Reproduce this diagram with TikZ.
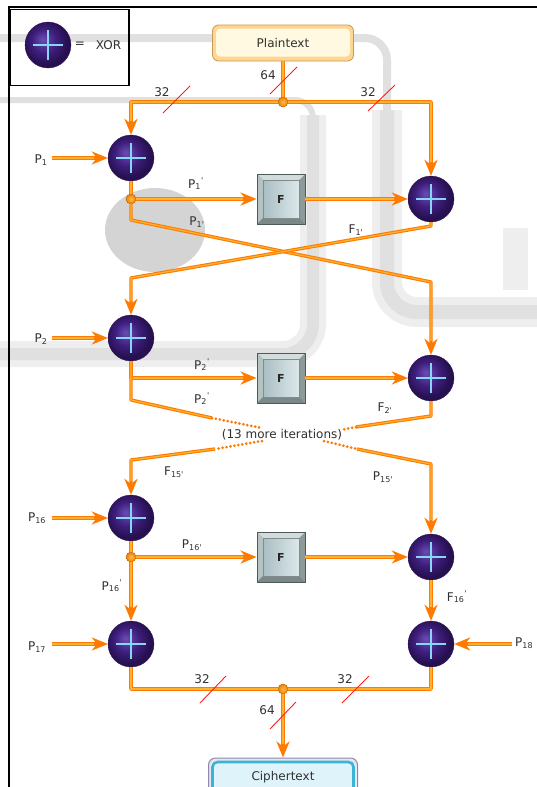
\documentclass[tikz,border=0pt]{standalone}
\usepackage{fontspec}
\setmainfont{DejaVu Sans}
\usetikzlibrary{arrows.meta}

% palette
\definecolor{wireO}{HTML}{FF7A00}
\definecolor{wireY}{HTML}{FFB230}
\definecolor{slashR}{HTML}{FF1E1E}
\definecolor{xorHi}{HTML}{6A4CB4}
\definecolor{xorMid}{HTML}{3F1F7E}
\definecolor{xorDark}{HTML}{271050}
\definecolor{plusC}{HTML}{88D6F2}
\definecolor{txtC}{HTML}{303030}
\definecolor{fEdge}{HTML}{4E5A5A}
\definecolor{fTop}{HTML}{D2DCDC}
\definecolor{fLeft}{HTML}{B4C2C2}
\definecolor{fRight}{HTML}{8C9A9A}
\definecolor{fBot}{HTML}{7A8888}
\definecolor{fFaceL}{HTML}{A9BEC3}
\definecolor{fFaceR}{HTML}{DCE8EA}
\definecolor{ptEdge}{HTML}{C49A5C}
\definecolor{ptRim}{HTML}{FFD590}
\definecolor{ptFill}{HTML}{FFF9E2}
\definecolor{ctEdge}{HTML}{8C88AA}
\definecolor{ctRing}{HTML}{E6E6EE}
\definecolor{ctRim}{HTML}{3AB4D6}
\definecolor{ctFill}{HTML}{DFF3FA}
\definecolor{dotHi}{HTML}{FFB850}
\definecolor{dotLo}{HTML}{EE8200}
\definecolor{wmLight}{HTML}{EEEEEE}
\definecolor{wmMid}{HTML}{E0E0E0}
\definecolor{wmDark}{HTML}{D4D4D4}

\pgfdeclareradialshading{xorball}{\pgfpoint{-6bp}{6bp}}{%
  color(0bp)=(xorHi); color(13bp)=(xorMid); color(24bp)=(xorDark);
  color(30bp)=(xorDark); color(50bp)=(xorDark)}

\newcommand\tickmark{\textquotesingle}

\begin{document}
\begin{tikzpicture}[x=1pt, y=-1pt,
  lbl/.style={inner sep=0pt, text=txtC, font=\fontsize{12}{14}\selectfont},
  wire/.style={draw=wireO, line width=3.4pt, line join=round,
    postaction={draw=wireY, line width=1.2pt, -}},
  awire/.style={draw=wireO, line width=3.4pt, line join=round,
    -{Stealth[length=16pt, width=13pt, inset=5pt]},
    postaction={draw=wireY, line width=1.2pt, -, shorten >=14pt}},
  dotwire/.style={draw=wireO, line width=3pt, line cap=round,
    dash pattern=on 0pt off 4pt},
  slash/.style={draw=slashR, line width=0.9pt},
  xor/.style={circle, minimum size=46pt, inner sep=0pt, shading=xorball,
    draw=xorDark, line width=0.3pt,
    path picture={
      \draw[plusC, line width=1.6pt]
        ([xshift=-15pt]path picture bounding box.center) --
        ([xshift=15pt]path picture bounding box.center);
      \draw[plusC, line width=1.6pt]
        ([yshift=-15pt]path picture bounding box.center) --
        ([yshift=15pt]path picture bounding box.center);}},
  jdot/.style={circle, minimum size=10pt, inner sep=0pt, shading=radial,
    inner color=dotHi, outer color=dotLo, draw=dotLo!80!black, line width=0.5pt},
  fbox/.style={rectangle, minimum width=48pt, minimum height=50pt, inner sep=0pt,
    fill=fRight, draw=fEdge, line width=0.8pt,
    font=\bfseries\fontsize{11}{12}\selectfont, text=black!85,
    path picture={
      \fill[fTop] (path picture bounding box.north west) --
        (path picture bounding box.north east) --
        ([shift={(-6pt,-6pt)}]path picture bounding box.north east) --
        ([shift={(6pt,-6pt)}]path picture bounding box.north west) -- cycle;
      \fill[fLeft] (path picture bounding box.north west) --
        ([shift={(6pt,-6pt)}]path picture bounding box.north west) --
        ([shift={(6pt,6pt)}]path picture bounding box.south west) --
        (path picture bounding box.south west) -- cycle;
      \fill[fBot] (path picture bounding box.south west) --
        ([shift={(6pt,6pt)}]path picture bounding box.south west) --
        ([shift={(-6pt,6pt)}]path picture bounding box.south east) --
        (path picture bounding box.south east) -- cycle;
      \shade[left color=fFaceL, right color=fFaceR, draw=fEdge!70, line width=0.4pt]
        ([shift={(6pt,-6pt)}]path picture bounding box.north west) rectangle
        ([shift={(-6pt,6pt)}]path picture bounding box.south east);}},
  ptbox/.style={rectangle, rounded corners=6pt, minimum width=141pt,
    minimum height=36pt, draw=ptEdge, line width=0.8pt, fill=ptRim,
    text=txtC, font=\fontsize{12}{14}\selectfont,
    path picture={
      \fill[ptFill, rounded corners=4pt]
        ([shift={(3.5pt,-3.5pt)}]path picture bounding box.north west) rectangle
        ([shift={(-3.5pt,4.5pt)}]path picture bounding box.south east);}},
  ctbox/.style={rectangle, rounded corners=7pt, minimum width=149pt,
    minimum height=38pt, draw=ctEdge, line width=1pt, fill=ctRing,
    text=txtC, font=\fontsize{12}{14}\selectfont,
    path picture={
      \draw[ctRim, fill=ctFill, line width=2.6pt, rounded corners=5pt]
        ([shift={(4pt,-4pt)}]path picture bounding box.north west) rectangle
        ([shift={(-4pt,4pt)}]path picture bounding box.south east);}},
  band/.style={line cap=butt, rounded corners=30pt}
]
\useasboundingbox (0,0) rectangle (536,787);

% faint background logo bands: a soft wide stroke with a darker core
\draw[band, wmMid, line width=8pt, rounded corners=22pt] (0,38) -- (387,38) -- (387,140);
\draw[band, wmLight, line width=30pt] (387,110) -- (387,312) -- (545,312);
\draw[band, wmMid, line width=14pt] (387,110) -- (387,312) -- (545,312);
\draw[band, wmMid, line width=6pt, rounded corners=18pt] (0,100) -- (313,100) -- (313,140);
\draw[band, wmLight, line width=26pt] (313,115) -- (313,354) -- (-5,354);
\draw[band, wmMid, line width=12pt] (313,115) -- (313,354) -- (-5,354);
\fill[wmDark] (155,230) ellipse (50 and 42);
\fill[wmLight] (503,228) rectangle (528,290);

% outer frame
\draw[black, line width=1.8pt] (9,792) -- (9,7) -- (540,7);

% legend
\node[draw=black, line width=1.3pt, minimum width=119pt, minimum height=76pt,
  inner sep=0pt] (leg) at (69.5,47.5) {};
\node[xor] (legx) at (48,45) {};
\node[lbl] (legeq) at (80,45) {=};
\node[lbl] (legt) at (108.5,45) {XOR};

% blocks
\node[ptbox] (pt) at (283,43) {Plaintext};
\node[jdot] (j0) at (283,102) {};
\node[xor] (xl1) at (131,158) {};
\node[jdot] (j1) at (131,199) {};
\node[fbox] (f1) at (281,199) {F};
\node[xor] (xr1) at (431,199) {};
\node[xor] (xl2) at (131,338) {};
\node[fbox] (f2) at (281,378) {F};
\node[xor] (xr2) at (431,378) {};
\node[xor] (xl16) at (131,518) {};
\node[jdot] (j16) at (131,557) {};
\node[fbox] (f3) at (281,557) {F};
\node[xor] (xr16) at (431,557) {};
\node[xor] (xl17) at (131,644) {};
\node[xor] (xr18) at (431,644) {};
\node[jdot] (jb) at (283,689) {};
\node[ctbox] (ct) at (283,777) {Ciphertext};

% bend and end points of the connectors
\coordinate (in1) at (52,158);
\coordinate (in2) at (52,338);
\coordinate (in16) at (52,518);
\coordinate (in17) at (52,644);
\coordinate (in18) at (512,644);
\coordinate (a1) at (131,220);
\coordinate (a2) at (431,282);
\coordinate (b1) at (431,226);
\coordinate (b2) at (131,278);
\coordinate (c1) at (131,400);
\coordinate (c2) at (212,418);
\coordinate (c3) at (262,428);
\coordinate (d1) at (431,416);
\coordinate (d2) at (356,427);
\coordinate (d3) at (341,430);
\coordinate (e1) at (262,441);
\coordinate (e2) at (215,449);
\coordinate (e3) at (131,460);
\coordinate (g1) at (324,441);
\coordinate (g2) at (357,449);
\coordinate (g3) at (431,464);

% round 1
\draw[wire] (pt) -- (j0);
\draw[awire] (j0) -| (xl1);
\draw[awire] (j0) -| (xr1);
\draw[awire] (in1) -- (xl1);
\draw[wire] (xl1) -- (j1);
\draw[awire] (j1) -- (f1);
\draw[awire] (f1) -- (xr1);
\draw[awire] (j1) -- (a1) -- (a2) -- (xr2);
\draw[awire] (xr1) -- (b1) -- (b2) -- (xl2);

% round 2
\draw[awire] (in2) -- (xl2);
\draw[awire] (xl2) |- (f2);
\draw[awire] (f2) -- (xr2);
\draw[wire] (xl2) -- (c1) -- (c2);
\draw[dotwire] (c2) -- (c3);
\draw[wire] (xr2) -- (d1) -- (d2);
\draw[dotwire] (d2) -- (d3);
\node[lbl] (more) at (282,435) {(13 more iterations)};
\draw[dotwire] (e1) -- (e2);
\draw[awire] (e2) -- (e3) -- (xl16);
\draw[dotwire] (g1) -- (g2);
\draw[awire] (g2) -- (g3) -- (xr16);

% round 16 and output whitening
\draw[awire] (in16) -- (xl16);
\draw[wire] (xl16) -- (j16);
\draw[awire] (j16) -- (f3);
\draw[awire] (f3) -- (xr16);
\draw[awire] (j16) -- (xl17);
\draw[awire] (xr16) -- (xr18);
\draw[awire] (in17) -- (xl17);
\draw[awire] (in18) -- (xr18);
\draw[wire] (xl17) |- (jb) -| (xr18);
\draw[awire] (jb) -- (ct);

% bus width marks
\draw[slash] (163,113) -- (190,86);
\draw[slash] (368,111) -- (395,85);
\draw[slash] (270,94) -- (297,67);
\draw[slash] (200,703) -- (226,676);
\draw[slash] (342,703) -- (369,676);
\draw[slash] (270,729) -- (296,702);
\node[lbl] (w1) at (162,92) {32};
\node[lbl] (w2) at (368,92) {32};
\node[lbl] (w3) at (268,75) {64};
\node[lbl] (w4) at (202,679) {32};
\node[lbl] (w5) at (345,679) {32};
\node[lbl] (w6) at (267,710) {64};

% subkey and half-block labels
\node[lbl] (lp1) at (41,160) {P\textsubscript{1}};
\node[lbl] (lp1a) at (196,184) {P\textsubscript{1}\textsuperscript{\tickmark}};
\node[lbl] (lp1b) at (197,222) {P\textsubscript{1\tickmark}};
\node[lbl] (lf1) at (356,230) {F\textsubscript{1\tickmark}};
\node[lbl] (lp2) at (41,339) {P\textsubscript{2}};
\node[lbl] (lp2a) at (202,365) {P\textsubscript{2}\textsuperscript{\tickmark}};
\node[lbl] (lp2b) at (202,399) {P\textsubscript{2}\textsuperscript{\tickmark}};
\node[lbl] (lf2) at (385,408) {F\textsubscript{2\tickmark}};
\node[lbl] (lf15) at (174,472) {F\textsubscript{15\tickmark}};
\node[lbl] (lp15) at (383,477) {P\textsubscript{15\tickmark}};
\node[lbl] (lp16) at (37,518) {P\textsubscript{16}};
\node[lbl] (lp16a) at (192,545) {P\textsubscript{16\tickmark}};
\node[lbl] (lp16b) at (112,586) {P\textsubscript{16}\textsuperscript{\tickmark}};
\node[lbl] (lf16) at (457,597) {F\textsubscript{16}\textsuperscript{\tickmark}};
\node[lbl] (lp17) at (37,647) {P\textsubscript{17}};
\node[lbl, anchor=west] (lp18) at (515,643) {P\textsubscript{18}};
\end{tikzpicture}
\end{document}
